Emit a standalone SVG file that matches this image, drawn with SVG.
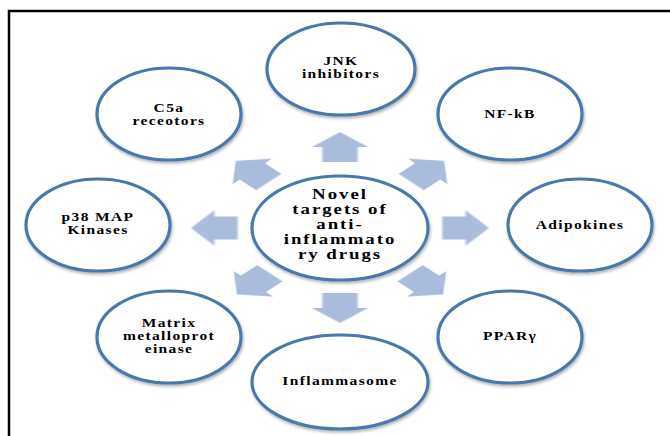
<svg xmlns="http://www.w3.org/2000/svg" xmlns:xlink="http://www.w3.org/1999/xlink" width="670" height="436" viewBox="0 0 670 436">
  <style>
    .node { fill: #ffffff; stroke: #4a78ad; stroke-width: 3.2; filter: url(#sh); }
    .arrow { fill: #a9bcdb; filter: url(#ash); }
    .t { font-family: "Liberation Serif", "Times New Roman", serif; font-weight: bold; font-size: 11.5px; letter-spacing: 1px; fill: #000; text-anchor: middle; }
    .tc { font-family: "Liberation Serif", "Times New Roman", serif; font-weight: bold; font-size: 14.5px; letter-spacing: 1.5px; fill: #000; text-anchor: middle; }
    .frame { fill: none; stroke: #000; stroke-width: 2.5; }
  </style>
  <defs>
    <filter id="sh" x="-10%" y="-10%" width="120%" height="130%">
      <feDropShadow dx="1" dy="2" stdDeviation="1.5" flood-color="#000" flood-opacity="0.3"/>
    </filter>
    <filter id="ash" x="-20%" y="-20%" width="140%" height="140%">
      <feGaussianBlur stdDeviation="0.6"/>
    </filter>
    <path id="arr" d="M-15,-11.5 H0 V-18 L15,0 L0,18 V11.5 H-15 Z"/>
  </defs>
  <rect width="670" height="436" fill="#ffffff"/>
  <path class="frame" d="M9,436 V11 H670"/>

  <g id="connectors">
    <use class="arrow" xlink:href="#arr" transform="translate(340,228) scale(1.55,1) rotate(-90) translate(81,0)"/>
    <use class="arrow" xlink:href="#arr" transform="translate(340,228) scale(1.55,1) rotate(90) translate(80,0)"/>
    <use class="arrow" xlink:href="#arr" transform="translate(340,228) scale(1.55,1) rotate(0) translate(81,0)"/>
    <use class="arrow" xlink:href="#arr" transform="translate(340,228) scale(1.55,1) rotate(180) translate(81,0)"/>
    <use class="arrow" xlink:href="#arr" transform="translate(340,228) scale(1.55,1) rotate(-45) translate(80,0)"/>
    <use class="arrow" xlink:href="#arr" transform="translate(340,228) scale(1.55,1) rotate(-135) translate(80,0)"/>
    <use class="arrow" xlink:href="#arr" transform="translate(340,228) scale(1.55,1) rotate(45) translate(79,0)"/>
    <use class="arrow" xlink:href="#arr" transform="translate(340,228) scale(1.55,1) rotate(135) translate(79,0)"/>
  </g>

  <g id="center">
    <ellipse class="node" cx="340" cy="228" rx="88" ry="52"/>
    <g transform="translate(340,0) scale(1.3,1)">
      <text class="tc" x="0" y="199.5">Novel</text>
      <text class="tc" x="0" y="214.3">targets of</text>
      <text class="tc" x="0" y="229">anti-</text>
      <text class="tc" x="0" y="244">inflammato</text>
      <text class="tc" x="0" y="258.7">ry drugs</text>
    </g>
  </g>

  <g id="jnk">
    <ellipse class="node" cx="341" cy="69" rx="74" ry="46"/>
    <g transform="translate(341,0) scale(1.35,1)">
      <text class="t" x="0" y="65">JNK</text>
      <text class="t" x="0" y="78">inhibitors</text>
    </g>
  </g>

  <g id="c5a">
    <ellipse class="node" cx="169" cy="114" rx="72" ry="46"/>
    <g transform="translate(169,0) scale(1.35,1)">
      <text class="t" x="0" y="112.5">C5a</text>
      <text class="t" x="0" y="125.5">receotors</text>
    </g>
  </g>

  <g id="nfkb">
    <ellipse class="node" cx="510" cy="114" rx="72" ry="46"/>
    <g transform="translate(510,0) scale(1.35,1)">
      <text class="t" x="0" y="118">NF-kB</text>
    </g>
  </g>

  <g id="p38">
    <ellipse class="node" cx="98" cy="225" rx="72" ry="46"/>
    <g transform="translate(98,0) scale(1.35,1)">
      <text class="t" x="0" y="221.5">p38 MAP</text>
      <text class="t" x="0" y="234.5">Kinases</text>
    </g>
  </g>

  <g id="adipokines">
    <ellipse class="node" cx="580" cy="225" rx="72" ry="46"/>
    <g transform="translate(580,0) scale(1.35,1)">
      <text class="t" x="0" y="229">Adipokines</text>
    </g>
  </g>

  <g id="matrix">
    <ellipse class="node" cx="169" cy="337" rx="72" ry="46"/>
    <g transform="translate(169,0) scale(1.35,1)">
      <text class="t" x="0" y="327">Matrix</text>
      <text class="t" x="0" y="340">metalloprot</text>
      <text class="t" x="0" y="353">einase</text>
    </g>
  </g>

  <g id="ppar">
    <ellipse class="node" cx="510" cy="337" rx="72" ry="46"/>
    <g transform="translate(510,0) scale(1.35,1)">
      <text class="t" x="0" y="340">PPARγ</text>
    </g>
  </g>

  <g id="inflammasome">
    <ellipse class="node" cx="340" cy="382" rx="88" ry="47"/>
    <g transform="translate(340,0) scale(1.35,1)">
      <text class="t" x="0" y="385">Inflammasome</text>
    </g>
  </g>
</svg>
